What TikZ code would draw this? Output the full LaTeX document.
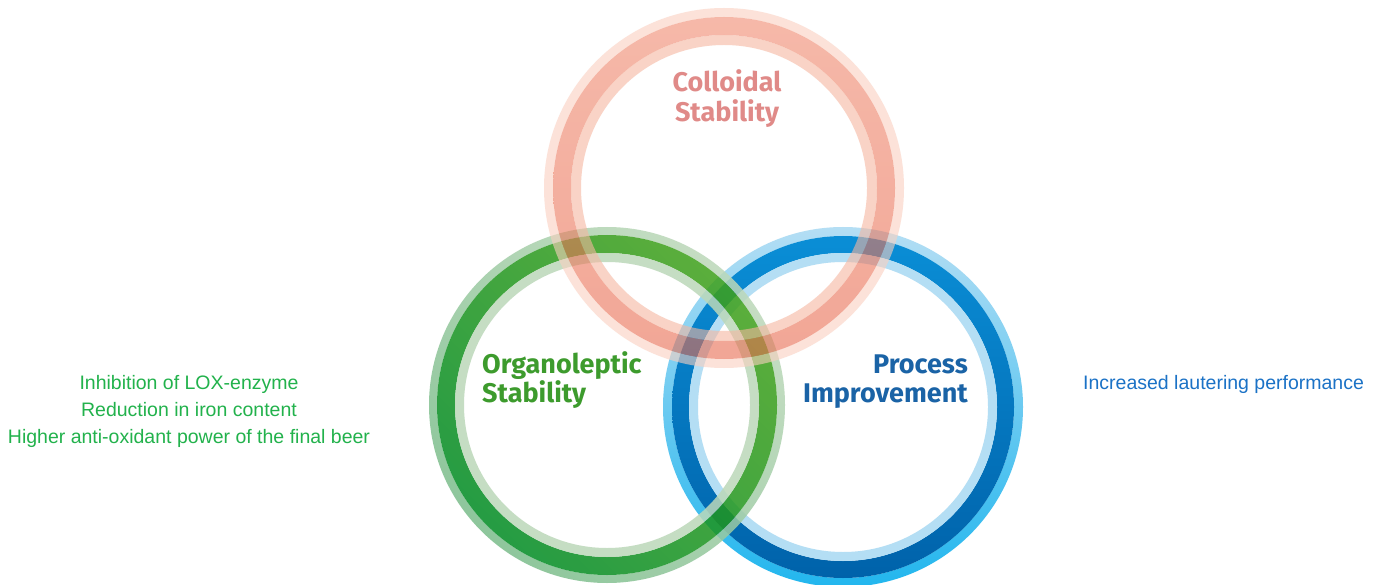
\documentclass[tikz,border=0pt]{standalone}
\usepackage{fontspec}
\setmainfont{Liberation Sans}
\newfontfamily\firafont{Fira Sans}
\definecolor{salmain}{HTML}{E96B50}
\definecolor{saltop}{HTML}{F08A70}
\definecolor{salpale}{HTML}{F5B6A0}
\definecolor{salout}{HTML}{FAD0C0}
\definecolor{saltext}{HTML}{E08A88}
\definecolor{grdark}{HTML}{008B23}
\definecolor{grlight}{HTML}{3FA01A}
\definecolor{grpaleA}{HTML}{7BBD8B}
\definecolor{grpaleB}{HTML}{BCD8B9}
\definecolor{grtext}{HTML}{3D9B2D}
\definecolor{bldark}{HTML}{0062AA}
\definecolor{bllight}{HTML}{0A8ED6}
\definecolor{blpaleA}{HTML}{22B6EE}
\definecolor{blpaleB}{HTML}{B4DEF4}
\definecolor{bltext}{HTML}{1A63A6}
\definecolor{lefttext}{HTML}{22B24C}
\definecolor{righttext}{HTML}{1B72C6}
\tikzset{
  band/.style={even odd rule},
  salband/.style={even odd rule, fill opacity=0.6},
  grband/.style={even odd rule, fill opacity=0.85},
  circlabel/.style={font=\firafont\bfseries\fontsize{27}{30}\selectfont, inner sep=0pt},
  sidelabel/.style={font=\fontsize{19.5}{24}\selectfont, inner sep=0pt},
}
\begin{document}
\begin{tikzpicture}[x=1pt,y=1pt]
\useasboundingbox[fill=white] (0,0) rectangle (1375,-585);
\coordinate (cS) at (724,-188);
\coordinate (cG) at (607,-405);
\coordinate (cB) at (843,-407);
% blue ring (bottom layer)
\shade[band, top color=blpaleB, bottom color=blpaleA] (cB) circle (180pt) (cB) circle (171pt);
\shade[band, top color=bllight, bottom color=bldark] (cB) circle (171pt) (cB) circle (154pt);
\fill[band, blpaleB] (cB) circle (154pt) (cB) circle (145pt);
% green ring
\shade[grband, top color=grpaleB, bottom color=grpaleA, shading angle=-45] (cG) circle (178pt) (cG) circle (170pt);
\shade[grband, top color=grlight, bottom color=grdark, shading angle=-45] (cG) circle (170pt) (cG) circle (152pt);
\fill[grband, grpaleB] (cG) circle (152pt) (cG) circle (143pt);
% salmon ring (top layer)
\fill[salband, salout] (cS) circle (180pt) (cS) circle (171pt);
\shade[salband, top color=saltop, bottom color=salmain] (cS) circle (171pt) (cS) circle (153pt);
\fill[salband, salpale] (cS) circle (153pt) (cS) circle (143pt);
% circle labels
\node[circlabel, saltext, anchor=base] (col1) at (727,-92) {Colloidal};
\node[circlabel, saltext, anchor=base] (col2) at (727,-122) {Stability};
\node[circlabel, grtext, anchor=base west] (org1) at (482,-373) {Organoleptic};
\node[circlabel, grtext, anchor=base west] (org2) at (482,-402) {Stability};
\node[circlabel, bltext, anchor=base east] (pro1) at (968,-373) {Process};
\node[circlabel, bltext, anchor=base east] (pro2) at (968,-402) {Improvement};
% side texts
\node[sidelabel, lefttext, anchor=base] (l1) at (189,-389) {Inhibition of LOX-enzyme};
\node[sidelabel, lefttext, anchor=base] (l2) at (189,-416) {Reduction in iron content};
\node[sidelabel, lefttext, anchor=base] (l3) at (189,-443) {Higher anti-oxidant power of the final beer};
\node[sidelabel, righttext, anchor=base west] (r1) at (1083,-389) {Increased lautering performance};
\end{tikzpicture}
\end{document}
